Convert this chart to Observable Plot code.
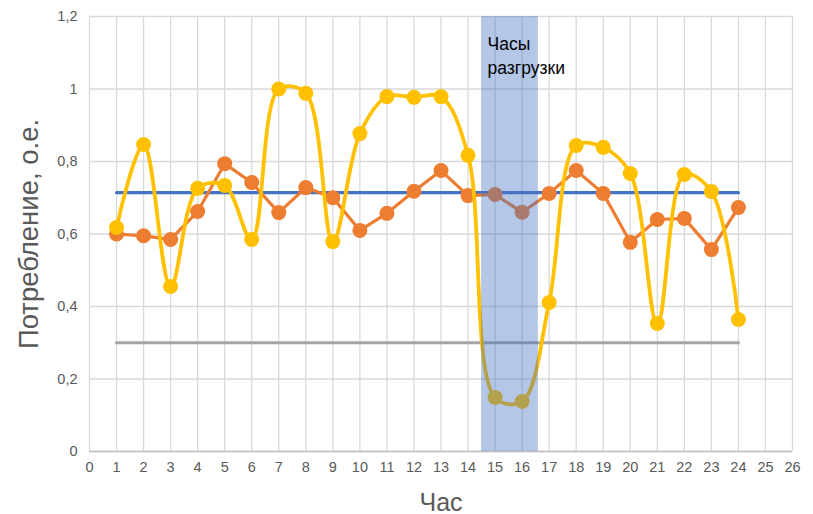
<!DOCTYPE html>
<html>
<head>
<meta charset="utf-8">
<script src="https://cdn.jsdelivr.net/npm/d3@7"></script>
<script src="https://cdn.jsdelivr.net/npm/@observablehq/plot@0.6"></script>
<style>
  html, body { margin: 0; padding: 0; background: #fff; }
  #chart { width: 813px; height: 514px; }
</style>
</head>
<body>
<div id="chart"></div>
<script>
const hours = [1,2,3,4,5,6,7,8,9,10,11,12,13,14,15,16,17,18,19,20,21,22,23,24];
const orangeValues = [0.600,0.595,0.585,0.662,0.794,0.742,0.659,0.728,0.700,0.610,0.657,0.718,0.775,0.706,0.709,0.660,0.712,0.775,0.712,0.577,0.640,0.643,0.557,0.673];
const yellowValues = [0.618,0.847,0.455,0.726,0.734,0.585,1.000,0.988,0.579,0.877,0.979,0.977,0.979,0.817,0.149,0.138,0.411,0.844,0.839,0.767,0.353,0.764,0.717,0.364];
const blueLevel = 0.714;
const grayLevel = 0.3;
const bandStart = 14.5;
const bandEnd = 16.6;
const bandLabel = ["Часы", "разгрузки"];
const xTicks = d3.range(0, 27);
const yTicks = [0, 0.2, 0.4, 0.6, 0.8, 1.0, 1.2];
const yTickLabels = ["0", "0,2", "0,4", "0,6", "0,8", "1", "1,2"];

const orange = hours.map((h, i) => ({h, v: orangeValues[i]}));
const yellow = hours.map((h, i) => ({h, v: yellowValues[i]}));
const blue = hours.map(h => ({h, v: blueLevel}));
const gray = hours.map(h => ({h, v: grayLevel}));

const chart = Plot.plot({
  width: 813,
  height: 514,
  marginLeft: 89,
  marginRight: 21,
  marginTop: 16,
  marginBottom: 63,
  style: {fontFamily: "'Liberation Sans', Arial, sans-serif", fontSize: "14.5px", color: "#595959", background: "#fff"},
  x: {domain: [0, 26], ticks: xTicks, tickSize: 0, tickPadding: 10, label: null},
  y: {domain: [0, 1.2], ticks: yTicks, tickSize: 0, tickPadding: 12, label: null,
      tickFormat: d => yTickLabels[yTicks.findIndex(t => Math.abs(t - d) < 1e-9)]},
  marks: [
    Plot.gridX(xTicks, {stroke: "#d9d9d9", strokeOpacity: 1, strokeWidth: 1.3}),
    Plot.gridY(yTicks, {stroke: "#d9d9d9", strokeOpacity: 1, strokeWidth: 1.3}),
    Plot.ruleY([0], {stroke: "#bfbfbf", strokeWidth: 1.5}),
    Plot.line(gray, {x: "h", y: "v", stroke: "#a5a5a5", strokeWidth: 3.2}),
    Plot.line(blue, {x: "h", y: "v", stroke: "#4472c4", strokeWidth: 3.2}),
    Plot.line(orange, {x: "h", y: "v", stroke: "#ed7d31", strokeWidth: 3.2}),
    Plot.dot(orange, {x: "h", y: "v", fill: "#ed7d31", r: 7.5}),
    Plot.line(yellow, {x: "h", y: "v", stroke: "#ffc000", strokeWidth: 3.8, curve: "catmull-rom"}),
    Plot.dot(yellow, {x: "h", y: "v", fill: "#ffc000", r: 7.5}),
    Plot.rect([{x1: bandStart, x2: bandEnd}], {x1: "x1", x2: "x2", y1: 0, y2: 1.2, fill: "#4472c4", fillOpacity: 0.4}),
    Plot.text([bandLabel.join("\n")], {x: bandStart + 0.22, y: 1.095, text: d => d, textAnchor: "start", lineAnchor: "middle", fill: "#000", fontSize: 17.5, lineHeight: 1.32}),
    Plot.text(["Час"], {x: 13, y: 0, text: d => d, dy: 51, fontSize: 25, fill: "#595959", lineAnchor: "middle"}),
    Plot.text(["Потребление, о.е."], {frameAnchor: "left", text: d => d, rotate: -90, dx: -60, textAnchor: "middle", lineAnchor: "middle", fontSize: 27.5, fill: "#595959"})
  ]
});
document.getElementById("chart").appendChild(chart);
</script>
</body>
</html>
